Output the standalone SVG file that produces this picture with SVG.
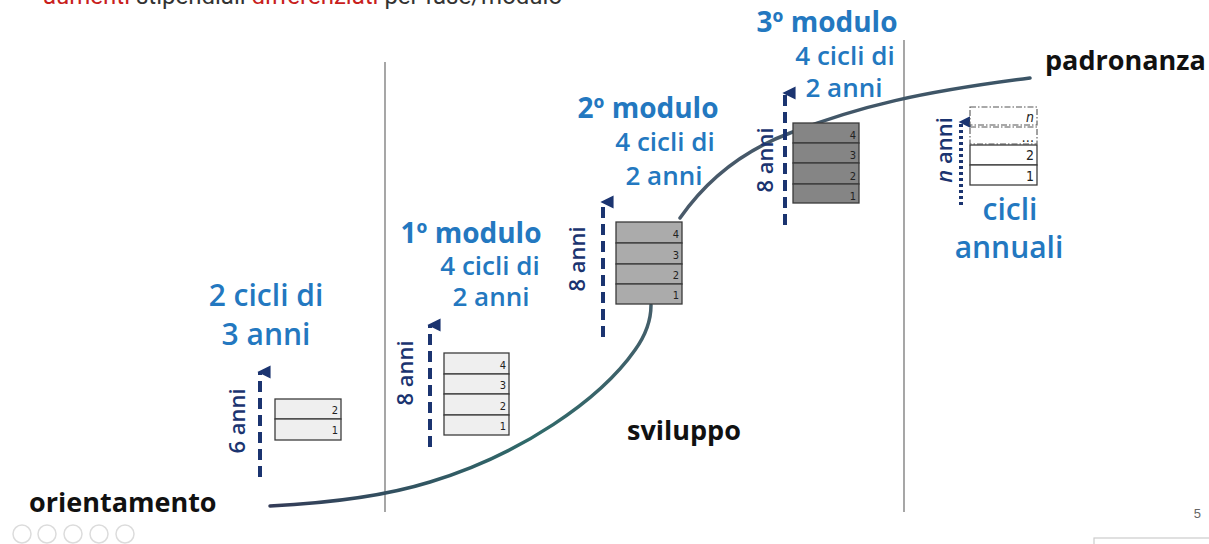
<svg xmlns="http://www.w3.org/2000/svg" width="1209" height="544" viewBox="0 0 1209 544">
<defs>
<linearGradient id="cg" gradientUnits="userSpaceOnUse" x1="270" y1="506" x2="1030" y2="78">
<stop offset="0" stop-color="#343c58"/>
<stop offset="0.3" stop-color="#2f6a6a"/>
<stop offset="0.55" stop-color="#4a5a6a"/>
<stop offset="1" stop-color="#3b5466"/>
</linearGradient>
<marker id="ah" viewBox="0 0 10 10" refX="5" refY="2" markerWidth="3.3" markerHeight="3.4" orient="auto-start-reverse" markerUnits="strokeWidth">
<path d="M0,10 L5,0 L10,10 Z" fill="#1b3470"/>
</marker>
<marker id="ah2" viewBox="0 0 10 10" refX="5" refY="2" markerWidth="3" markerHeight="4" orient="auto-start-reverse" markerUnits="strokeWidth">
<path d="M0,10 L5,0 L10,10 Z" fill="#1b3470"/>
</marker>
</defs>
<style>
.vline{stroke:#777;stroke-width:1.3;fill:none}
.arr{stroke:#1b3470;stroke-width:4;stroke-dasharray:11 6;fill:none}
.arrd{stroke:#1b3470;stroke-width:4;stroke-dasharray:3 3;fill:none}
.rot{font-family:"Open Sans","Liberation Sans",sans-serif;font-size:22px;fill:#1b3470;font-weight:600;text-anchor:middle}
.blue{font-family:"Open Sans","Liberation Sans",sans-serif;font-size:26px;font-weight:600;fill:#2378c0;text-anchor:middle}
.big{font-size:30px}
.bold{font-weight:700;font-size:28px}
.blk{font-family:"Open Sans","Liberation Sans",sans-serif;font-size:27px;font-weight:700;fill:#111}
.cl{fill:#efefef;stroke:#3c3c3c;stroke-width:1.3}
.cm{fill:#ababab;stroke:#3a3a3a;stroke-width:1.3}
.cd{fill:#858585;stroke:#3a3a3a;stroke-width:1.3}
.cw{fill:#fff;stroke:#3c3c3c;stroke-width:1.3}
.cdash{fill:#fff;stroke:#555;stroke-width:1.1;stroke-dasharray:6 2 1.5 2}
.num{font-family:"DejaVu Sans Condensed","Liberation Sans",sans-serif;font-size:11px;fill:#222;text-anchor:end}
.num2{font-family:"DejaVu Sans Condensed","Liberation Sans",sans-serif;font-size:14px;fill:#222;text-anchor:end}
.top{font-family:"Roboto","Liberation Sans",sans-serif;font-size:24px}
.ico{fill:none;stroke:#dcdcdc;stroke-width:1.5}
</style>
<text class="top" x="43" y="4"><tspan fill="#c8201c">aumenti</tspan><tspan fill="#333"> stipendiali </tspan><tspan fill="#c8201c">differenziati</tspan><tspan fill="#333"> per fase/modulo</tspan></text>

<g id="dividers">
<line class="vline" x1="385" y1="62" x2="385" y2="512"/>
<line class="vline" x1="904" y1="40" x2="904" y2="512"/>
</g>

<g id="connectors">
<path d="M270,506 C330,503 385,496 430,482 C520,455 600,400 635,350 C648,332 651,318 651,305" fill="none" stroke="url(#cg)" stroke-width="3.5" stroke-linecap="round"/>
<path d="M680,218 C710,175 750,148 790,133 C860,106 920,92 1030,78" fill="none" stroke="url(#cg)" stroke-width="3.5" stroke-linecap="round"/>
<line class="arr" x1="260" y1="477" x2="260" y2="372" marker-end="url(#ah)"/>
<line class="arr" x1="430" y1="447" x2="430" y2="325" marker-end="url(#ah)"/>
<line class="arr" x1="603" y1="337" x2="603" y2="202" marker-end="url(#ah)"/>
<line class="arr" x1="785" y1="225" x2="785" y2="93" marker-end="url(#ah)"/>
<line class="arrd" x1="961" y1="205" x2="961" y2="122" marker-end="url(#ah2)"/>
</g>

<g id="orientamento">
<text class="blk" x="29" y="512">orientamento</text>
</g>
<g id="sviluppo">
<text class="blk" x="627" y="440">sviluppo</text>
</g>
<g id="padronanza">
<text class="blk" x="1045" y="70">padronanza</text>
</g>

<g id="fase0">
<text class="blue big" x="266" y="306">2 cicli di</text>
<text class="blue big" x="266" y="345">3 anni</text>
<text class="rot" transform="translate(245,421) rotate(-90)">6 anni</text>
<rect class="cl" x="275" y="399" width="66" height="20"/>
<rect class="cl" x="275" y="419" width="66" height="21"/>
<text class="num" x="338" y="414">2</text>
<text class="num" x="338" y="434">1</text>
</g>

<g id="modulo1">
<text class="blue bold" x="471" y="243">1º modulo</text>
<text class="blue" x="490" y="275">4 cicli di</text>
<text class="blue" x="491" y="306">2 anni</text>
<text class="rot" transform="translate(413,373) rotate(-90)">8 anni</text>
<rect class="cl" x="444" y="353" width="65" height="21"/>
<rect class="cl" x="444" y="374" width="65" height="20"/>
<rect class="cl" x="444" y="394" width="65" height="21"/>
<rect class="cl" x="444" y="415" width="65" height="20"/>
<text class="num" x="506" y="369">4</text>
<text class="num" x="506" y="389">3</text>
<text class="num" x="506" y="410">2</text>
<text class="num" x="506" y="430">1</text>
</g>

<g id="modulo2">
<text class="blue bold" x="648" y="118">2º modulo</text>
<text class="blue" x="665" y="151">4 cicli di</text>
<text class="blue" x="664" y="185">2 anni</text>
<text class="rot" transform="translate(585,259) rotate(-90)">8 anni</text>
<rect class="cm" x="616" y="222" width="66" height="21"/>
<rect class="cm" x="616" y="243" width="66" height="21"/>
<rect class="cm" x="616" y="264" width="66" height="20"/>
<rect class="cm" x="616" y="284" width="66" height="20"/>
<text class="num" x="679" y="238">4</text>
<text class="num" x="679" y="259">3</text>
<text class="num" x="679" y="279">2</text>
<text class="num" x="679" y="299">1</text>
</g>

<g id="modulo3">
<text class="blue bold" x="827" y="32">3º modulo</text>
<text class="blue" x="845" y="65">4 cicli di</text>
<text class="blue" x="844" y="97">2 anni</text>
<text class="rot" transform="translate(773,160) rotate(-90)">8 anni</text>
<rect class="cd" x="793" y="123" width="66" height="20"/>
<rect class="cd" x="793" y="143" width="66" height="20"/>
<rect class="cd" x="793" y="163" width="66" height="21"/>
<rect class="cd" x="793" y="184" width="66" height="19"/>
<text class="num" x="856" y="139">4</text>
<text class="num" x="856" y="159">3</text>
<text class="num" x="856" y="180">2</text>
<text class="num" x="856" y="200">1</text>
</g>

<g id="padronanza-cicli">
<text class="blue big" x="1010" y="220">cicli</text>
<text class="blue big" x="1009" y="258">annuali</text>
<text class="rot" transform="translate(952,150) rotate(-90)"><tspan font-style="italic">n</tspan> anni</text>
<rect class="cdash" x="970" y="107" width="67" height="18"/>
<rect class="cdash" x="970" y="127" width="67" height="17"/>
<rect class="cw" x="970" y="145" width="67" height="20"/>
<rect class="cw" x="970" y="165" width="67" height="20"/>
<text class="num2" x="1034" y="122" font-style="italic" font-size="12px">n</text>
<text class="num2" x="1034" y="142" font-size="12px">…</text>
<text class="num2" x="1034" y="160">2</text>
<text class="num2" x="1034" y="181">1</text>
</g>

<g id="footer">
<text x="1201" y="518" font-family="Liberation Sans, sans-serif" font-size="13" fill="#666" text-anchor="end">5</text>
<circle class="ico" cx="22" cy="534" r="9"/>
<circle class="ico" cx="47" cy="534" r="9"/>
<circle class="ico" cx="73" cy="534" r="9"/>
<circle class="ico" cx="99" cy="534" r="9"/>
<circle class="ico" cx="125" cy="534" r="9"/>
<rect x="1094" y="538" width="120" height="10" fill="none" stroke="#ccc" stroke-width="1.2"/>
</g>
</svg>
